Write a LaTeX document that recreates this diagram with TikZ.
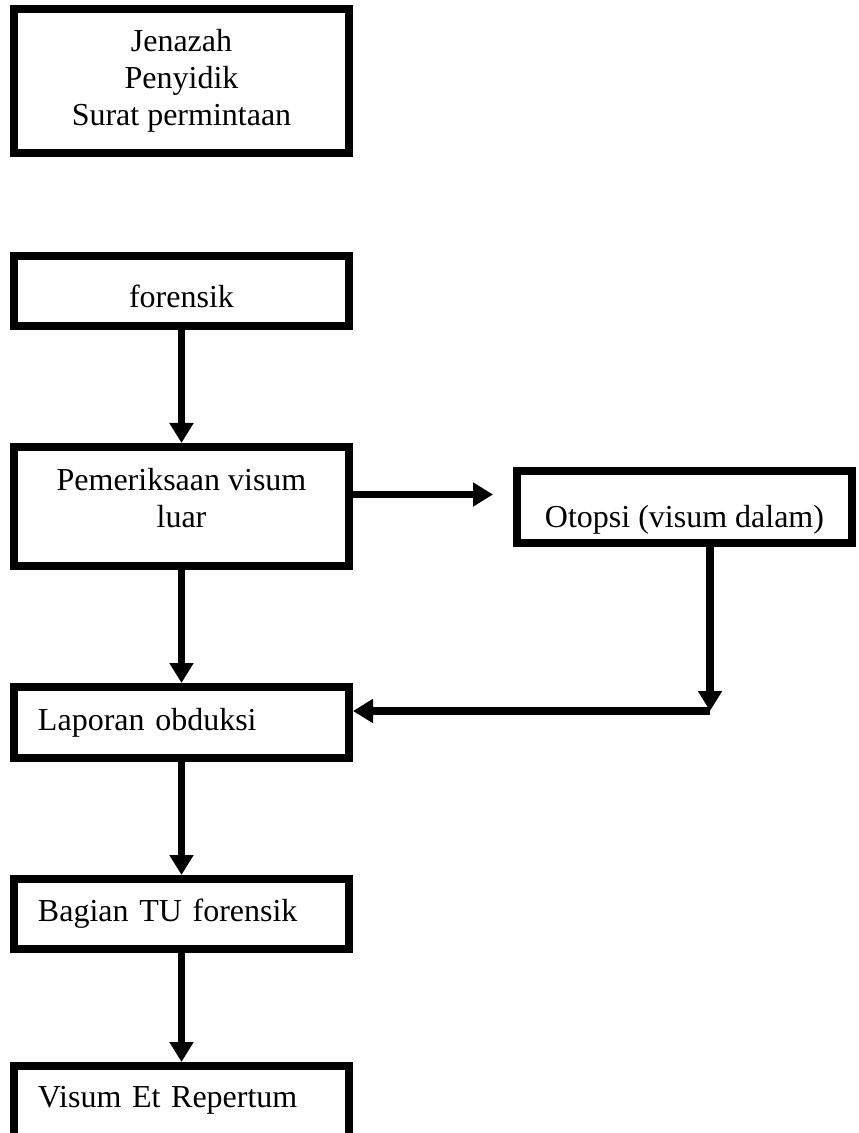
\documentclass[tikz,border=0pt]{standalone}
\usepackage{fontspec}
\setmainfont{Liberation Serif}
\usetikzlibrary{positioning,arrows.meta}
\tikzset{>={Triangle[length=10pt,width=11.5pt]},node distance=56.5pt,
  box/.style={draw,line width=4pt,minimum width=167.5pt,inner ysep=0pt,align=center,font=\fontsize{16pt}{18.5pt}\selectfont},
  lbox/.style={box,align=left,text width=143.5pt,inner xsep=12pt},
  link/.style={->,line width=3.75pt}}

\begin{document}
\begin{tikzpicture}
    \useasboundingbox (-90.75pt,40.5pt) rectangle ++(429pt,-566.5pt);
    \node[box,minimum height=72pt] (jen) at (0,0) {Jenazah\\Penyidik\\Surat permintaan};
    \node[box,minimum height=35pt,text height=17pt,text depth=0pt] (for) [below=47.5pt of jen] {forensik};
    \node[box,minimum height=59.5pt,text depth=9pt] (pem) [below=of for] {Pemeriksaan visum\\luar};
    \node[box,minimum height=36pt,text height=24.5pt,text depth=3.5pt] (oto) [right=80pt of pem] {Otopsi (visum dalam)};
    \node[lbox,minimum height=35.5pt] (lap) [below=of pem] {Laporan obduksi};
    \node[lbox,minimum height=35pt] (bag) [below=of lap] {Bagian TU forensik};
    \node[lbox,minimum height=42pt,text depth=11.5pt] (vis) [below=54.5pt of bag] {Visum Et Repertum};
    \coordinate (otoin) at ([xshift=-10pt,yshift=6pt]oto.west);
    \coordinate (lapin) at ([yshift=5.75pt]lap.east);
    \coordinate (bend) at ([xshift=12.75pt]oto.south |- lapin);
    \draw[link] (for) -- (pem);
    \draw[link] (pem.east |- otoin) -- (otoin);
    \draw[link] ([xshift=12.75pt]oto.south) -- (bend);
    \draw[link] (bend) -- (lapin);
    \draw[link] (pem) -- (lap);
    \draw[link] (lap) -- (bag);
    \draw[link] (bag) -- (vis);
\end{tikzpicture}
\end{document}
